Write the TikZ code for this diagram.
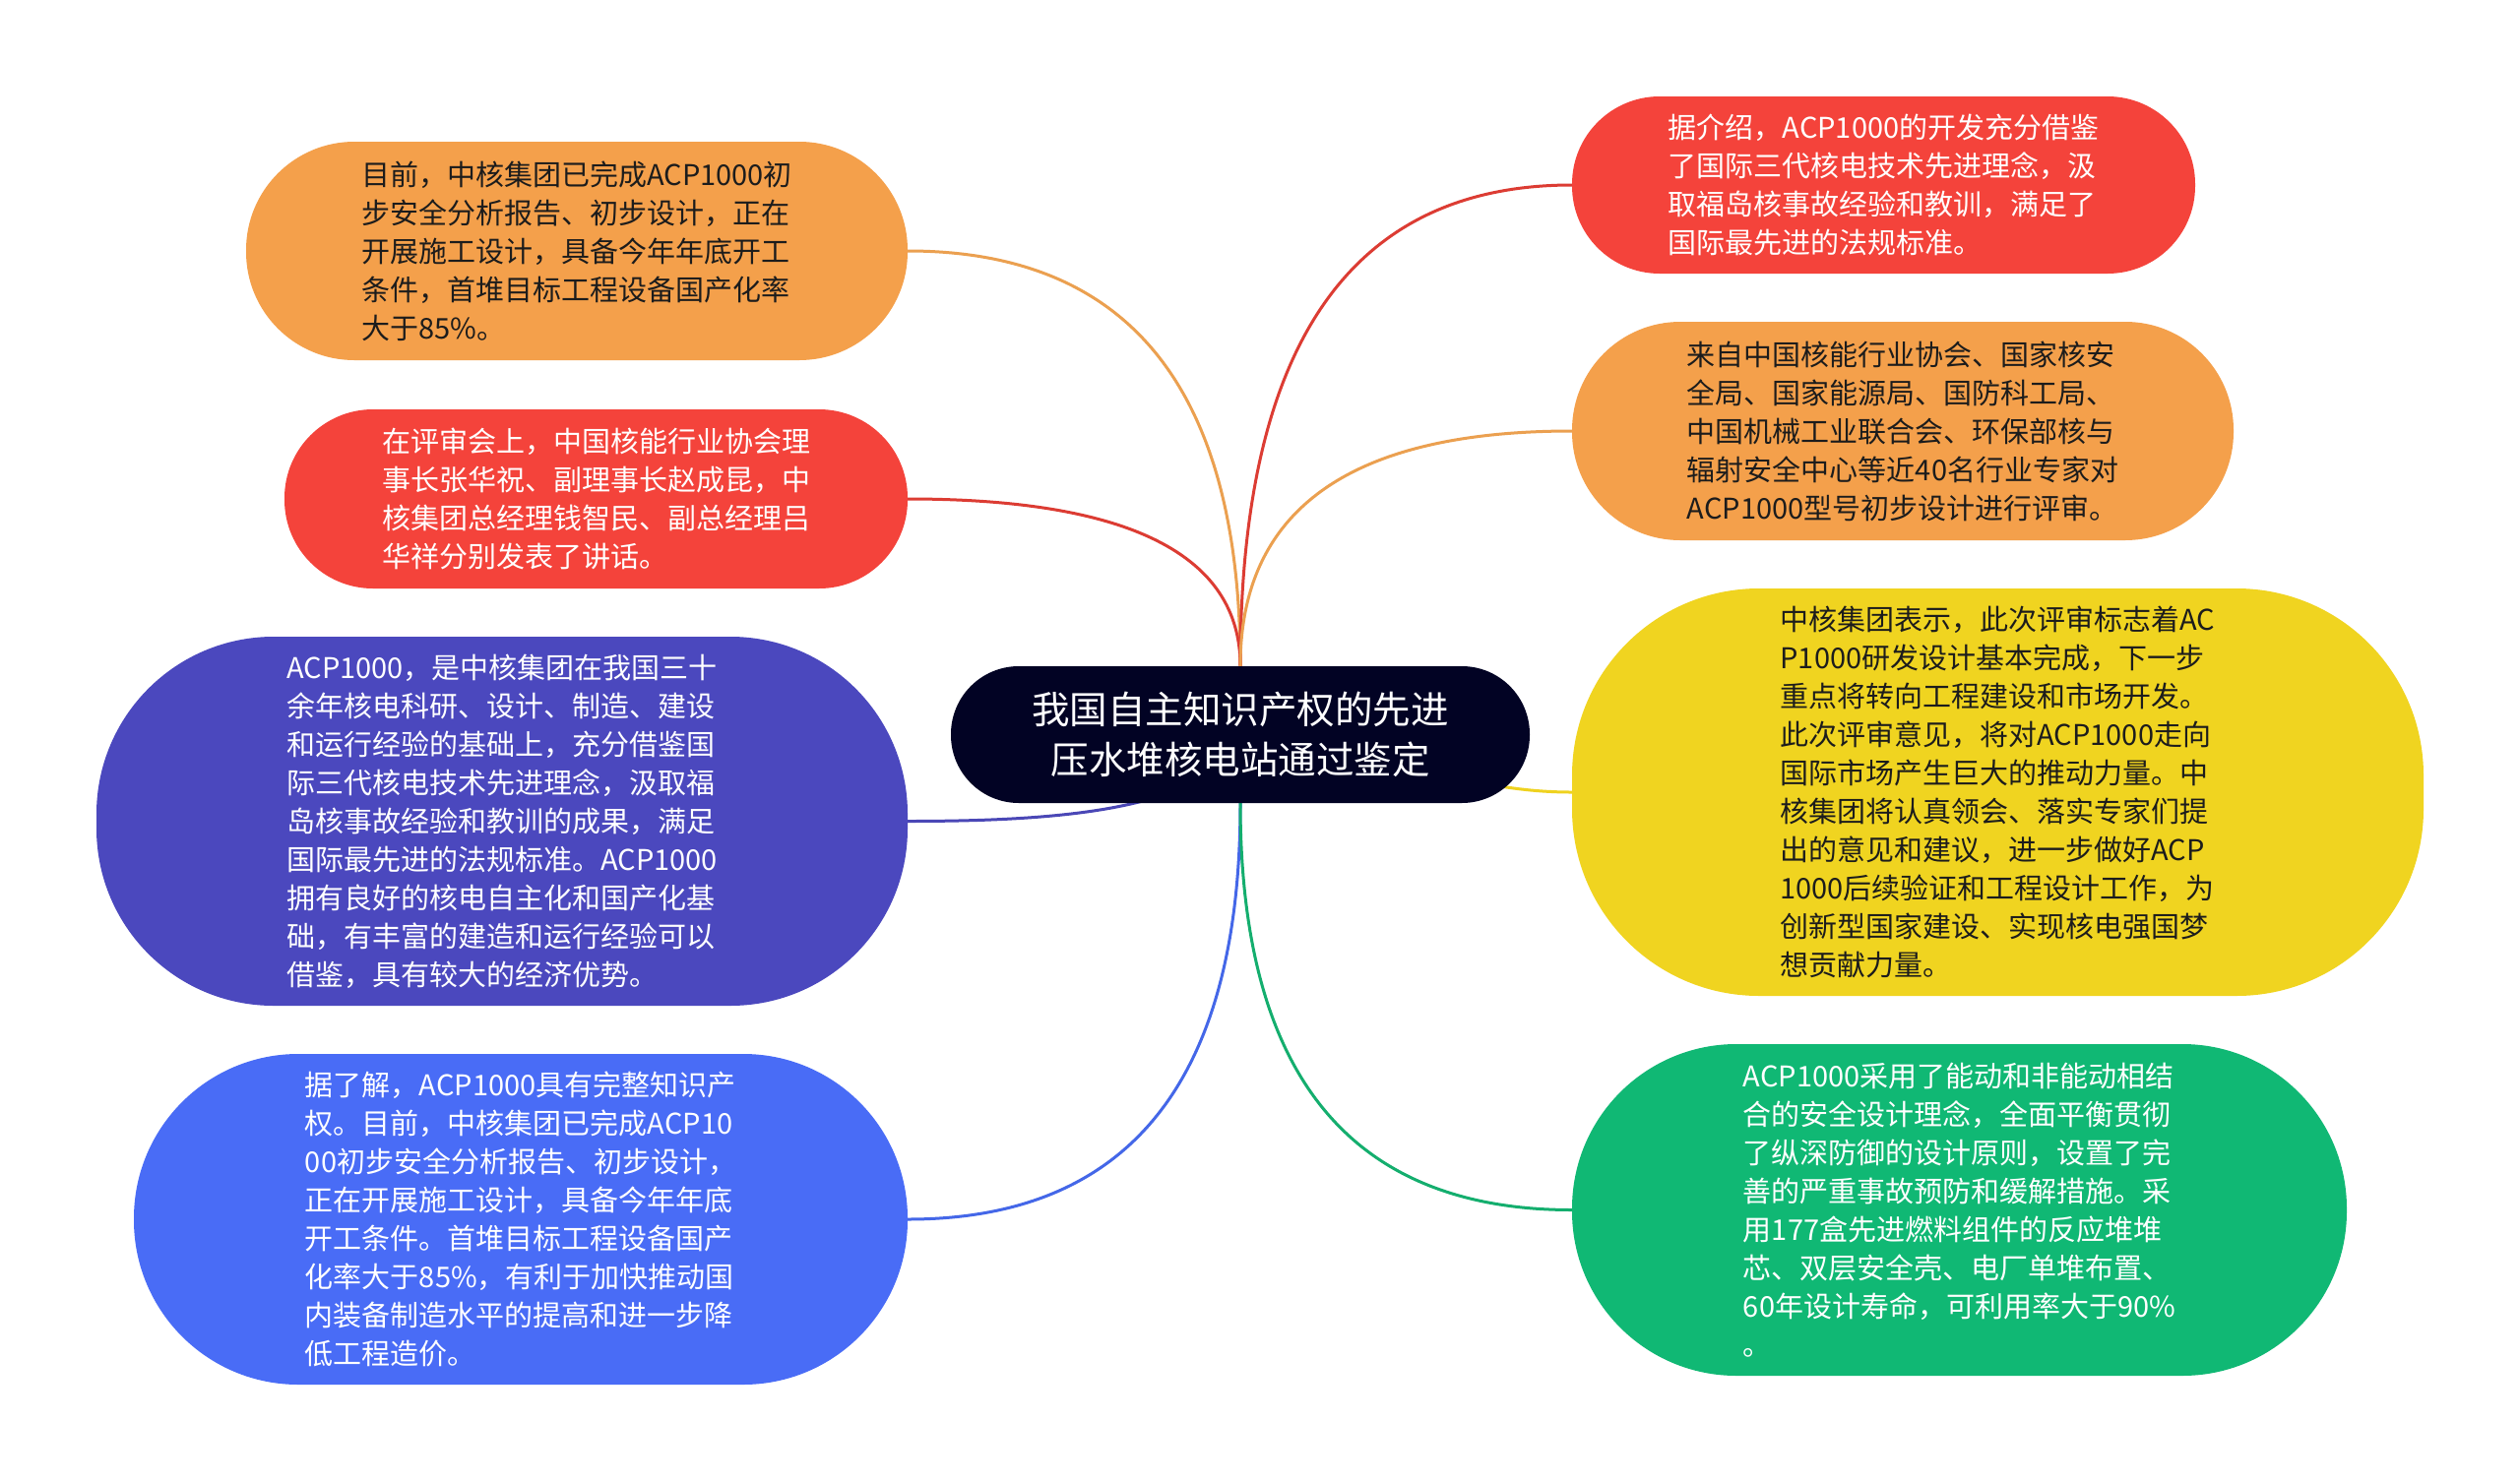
\documentclass[tikz,border=0pt]{standalone}
\usepackage{fontspec}
\setmainfont{Noto Sans CJK SC}
\pgfdeclarelayer{bg}
\pgfsetlayers{bg,main}
\definecolor{orangeN}{HTML}{F4A04B}
\definecolor{redN}{HTML}{F4433B}
\definecolor{purpleN}{HTML}{4B48BE}
\definecolor{blueN}{HTML}{496CF6}
\definecolor{yellowN}{HTML}{F0D420}
\definecolor{greenN}{HTML}{10B874}
\definecolor{centerN}{HTML}{020324}
\definecolor{darkT}{HTML}{1C1C1C}
\definecolor{orangeL}{HTML}{EBA050}
\definecolor{redL}{HTML}{DC3C33}
\definecolor{purpleL}{HTML}{4A47B6}
\definecolor{blueL}{HTML}{4467E8}
\definecolor{yellowL}{HTML}{EFD21F}
\definecolor{greenL}{HTML}{14AE6E}
\tikzset{
  box/.style={inner sep=0pt, align=left, font=\fontsize{29}{39}\selectfont},
  hub/.style={inner sep=0pt, align=center, font=\fontsize{38.5}{50.5}\selectfont, fill=centerN, text=white},
  conn/.style={line width=3pt}
}
\begin{document}
\begin{tikzpicture}[x=1pt,y=-1pt]
\useasboundingbox (0,0) rectangle (2560,1505);
\begin{pgfonlayer}{bg}
\fill[white] (0,0) rectangle (2560,1505);
\end{pgfonlayer}

\node[hub, minimum width=588pt, minimum height=139pt, rounded corners=69pt] (c) at (1260,746.5)
  {我国自主知识产权的先进\\压水堆核电站通过鉴定};

\node[box, fill=orangeN, text=darkT, minimum width=672pt, minimum height=222pt, rounded corners=110pt] (l1) at (586,255)
  {目前，中核集团已完成ACP1000初\\步安全分析报告、初步设计，正在\\开展施工设计，具备今年年底开工\\条件，首堆目标工程设备国产化率\\大于85\%。};

\node[box, fill=redN, text=white, minimum width=633pt, minimum height=182pt, rounded corners=90pt] (l2) at (605.5,507)
  {在评审会上，中国核能行业协会理\\事长张华祝、副理事长赵成昆，中\\核集团总经理钱智民、副总经理吕\\华祥分别发表了讲话。};

\node[box, fill=purpleN, text=white, minimum width=824pt, minimum height=375pt, rounded corners=180pt] (l3) at (510,834.5)
  {ACP1000，是中核集团在我国三十\\余年核电科研、设计、制造、建设\\和运行经验的基础上，充分借鉴国\\际三代核电技术先进理念，汲取福\\岛核事故经验和教训的成果，满足\\国际最先进的法规标准。ACP1000\\拥有良好的核电自主化和国产化基\\础，有丰富的建造和运行经验可以\\借鉴，具有较大的经济优势。};

\node[box, fill=blueN, text=white, minimum width=786pt, minimum height=336pt, rounded corners=167pt] (l4) at (529,1239)
  {据了解，ACP1000具有完整知识产\\权。目前，中核集团已完成ACP10\\00初步安全分析报告、初步设计，\\正在开展施工设计，具备今年年底\\开工条件。首堆目标工程设备国产\\化率大于85\%，有利于加快推动国\\内装备制造水平的提高和进一步降\\低工程造价。};

\node[box, fill=redN, text=white, minimum width=633pt, minimum height=180pt, rounded corners=89pt] (r1) at (1913.5,188)
  {据介绍，ACP1000的开发充分借鉴\\了国际三代核电技术先进理念，汲\\取福岛核事故经验和教训，满足了\\国际最先进的法规标准。};

\node[box, fill=orangeN, text=darkT, minimum width=672pt, minimum height=222pt, rounded corners=110pt] (r2) at (1933,438)
  {来自中国核能行业协会、国家核安\\全局、国家能源局、国防科工局、\\中国机械工业联合会、环保部核与\\辐射安全中心等近40名行业专家对\\ACP1000型号初步设计进行评审。};

\node[box, fill=yellowN, text=darkT, minimum width=865pt, minimum height=414pt, rounded corners=190pt] (r3) at (2029.5,805)
  {中核集团表示，此次评审标志着AC\\P1000研发设计基本完成，下一步\\重点将转向工程建设和市场开发。\\此次评审意见，将对ACP1000走向\\国际市场产生巨大的推动力量。中\\核集团将认真领会、落实专家们提\\出的意见和建议，进一步做好ACP\\1000后续验证和工程设计工作，为\\创新型国家建设、实现核电强国梦\\想贡献力量。};

\node[box, fill=greenN, text=white, minimum width=787pt, minimum height=337pt, rounded corners=167pt] (r4) at (1990.5,1229.5)
  {ACP1000采用了能动和非能动相结\\合的安全设计理念，全面平衡贯彻\\了纵深防御的设计原则，设置了完\\善的严重事故预防和缓解措施。采\\用177盒先进燃料组件的反应堆堆\\芯、双层安全壳、电厂单堆布置、\\60年设计寿命，可利用率大于90\%\\。};

\begin{pgfonlayer}{bg}
\draw[conn, orangeL] (c.north) .. controls +(0,-281) and +(225,0) .. (l1.east);
\draw[conn, redL] (c.north) .. controls +(0,-113) and +(225,0) .. (l2.east);
\draw[conn, purpleL] (c.center) .. controls +(-30,74) and +(168,0) .. (l3.east);
\draw[conn, blueL] (c.south) .. controls +(0,282) and +(225,0) .. (l4.east);
\draw[conn, redL] (c.north) .. controls +(0,-326) and +(-225,0) .. (r1.west);
\draw[conn, orangeL] (c.north) .. controls +(0,-159) and +(-225,0) .. (r2.west);
\draw[conn, yellowL] (c.center) .. controls +(132,0) and +(-132,0) .. (r3.west);
\draw[conn, greenL] (c.south) .. controls +(0,276) and +(-225,0) .. (r4.west);
\end{pgfonlayer}
\end{tikzpicture}
\end{document}
